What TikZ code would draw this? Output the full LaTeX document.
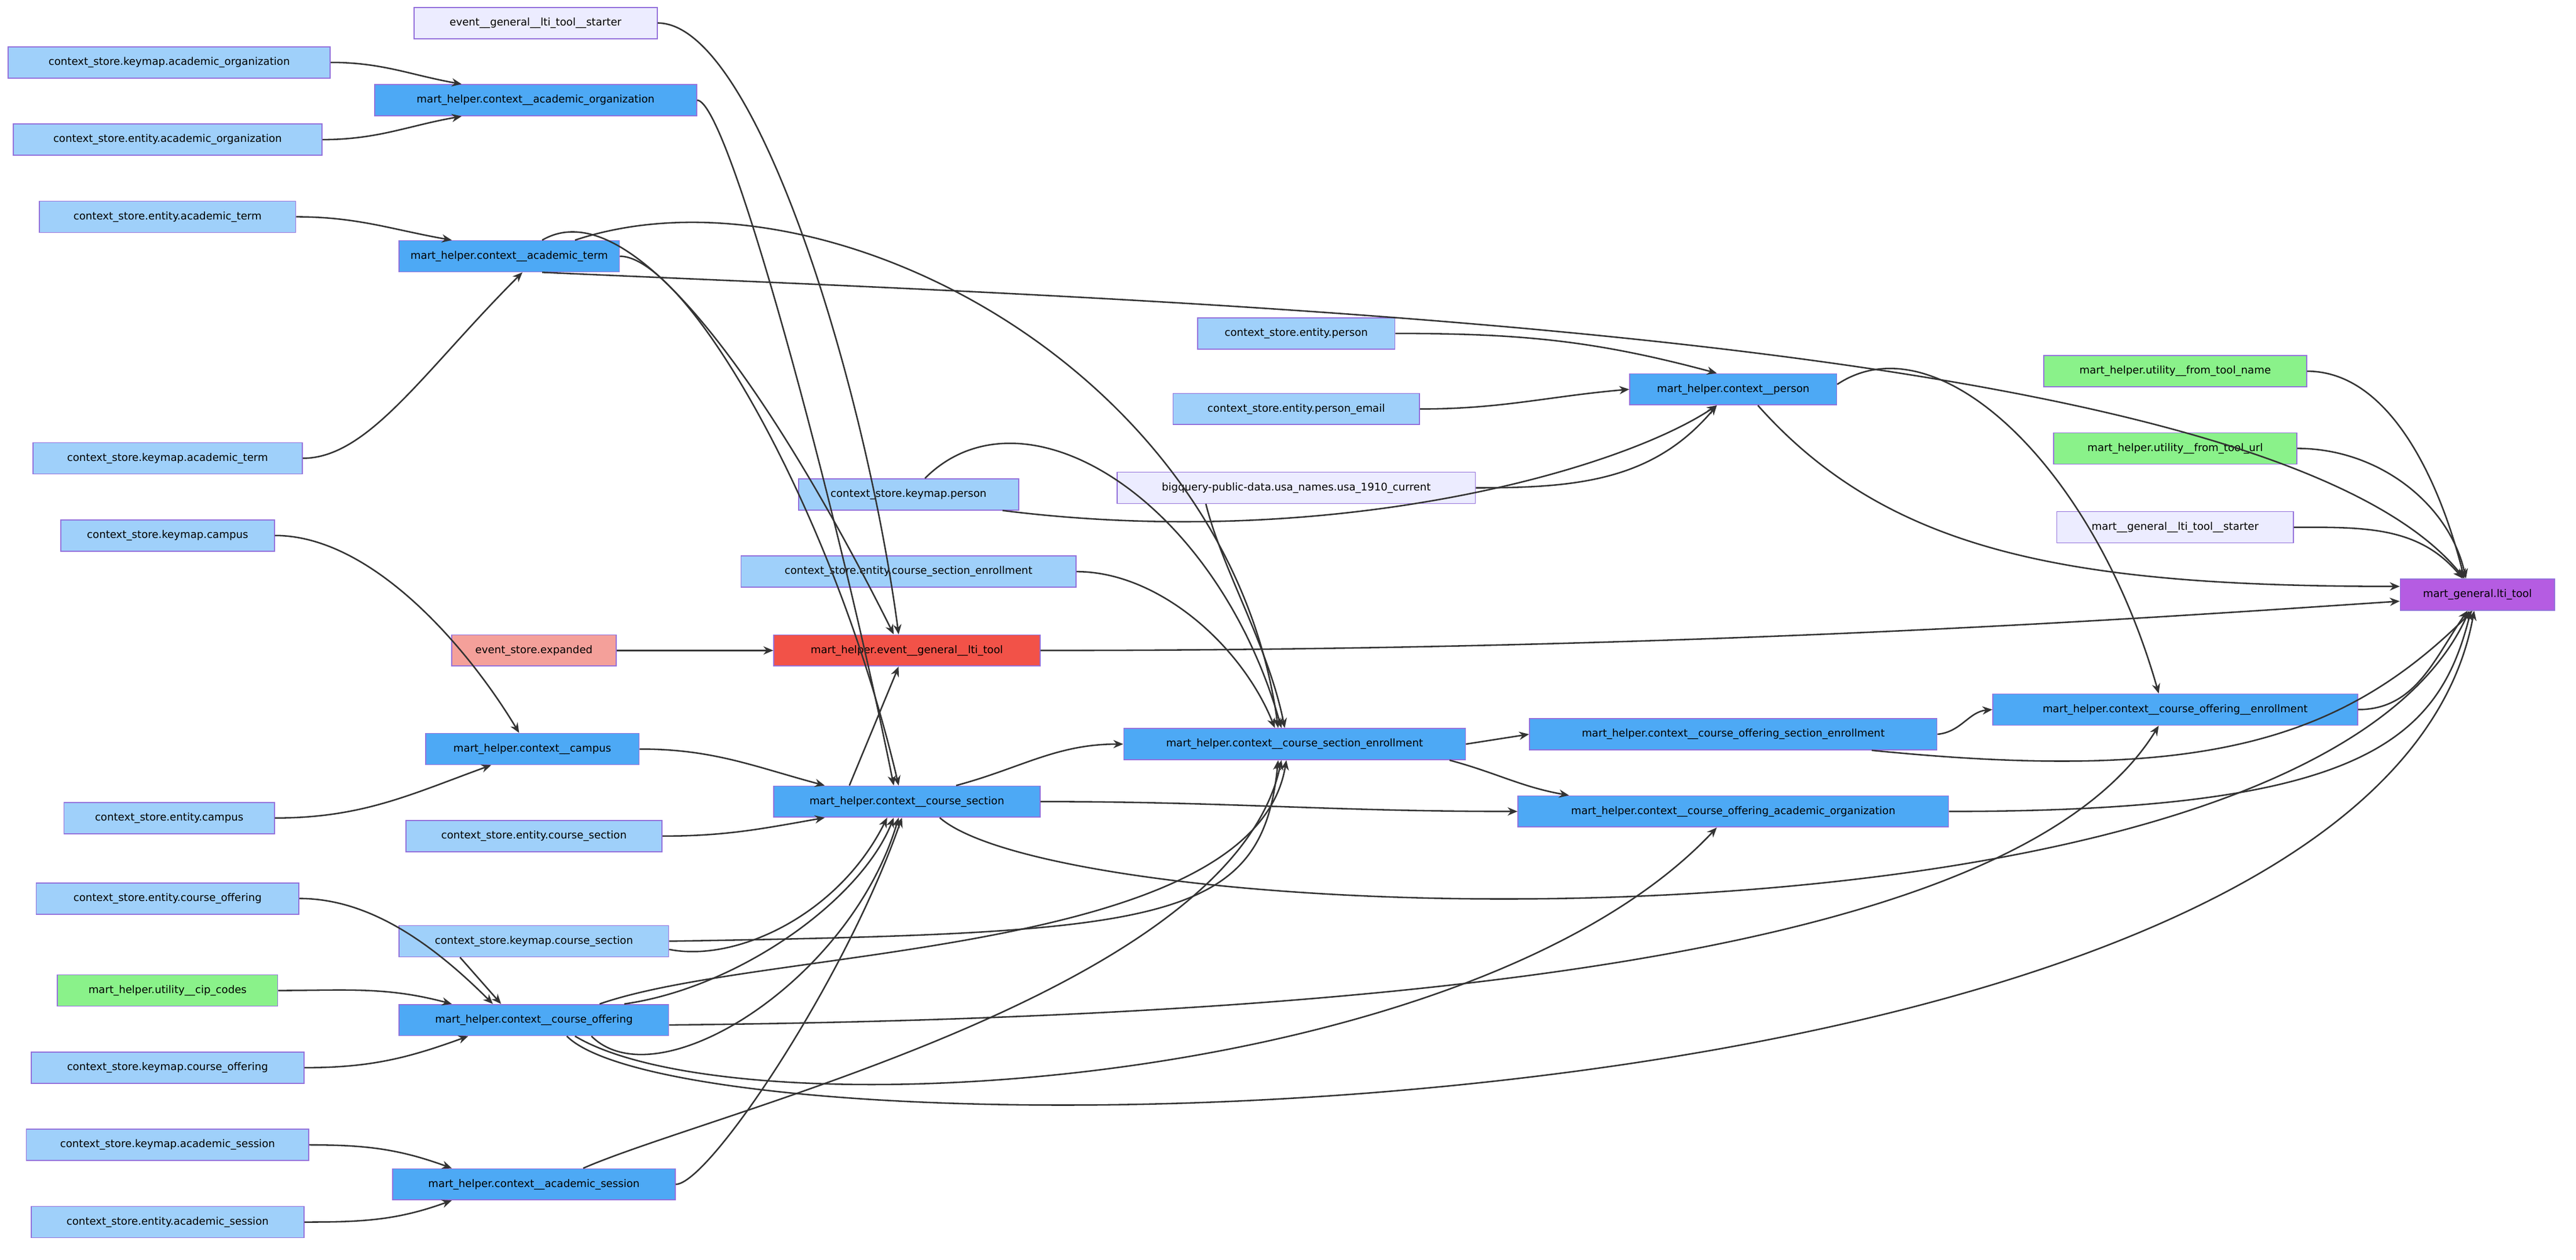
\documentclass[tikz,border=0pt]{standalone}
\usepackage{fontspec}
\setmainfont{DejaVu Sans}
\usetikzlibrary{arrows.meta}
\definecolor{lb}{HTML}{9FD0FA}
\definecolor{bb}{HTML}{4DA9F5}
\definecolor{bd}{HTML}{9370DB}
\definecolor{lav}{HTML}{ECECFF}
\definecolor{rd}{HTML}{F25248}
\definecolor{sal}{HTML}{F4A09A}
\definecolor{gr}{HTML}{8AF28A}
\definecolor{pu}{HTML}{B55CE2}
\definecolor{ln}{HTML}{333333}
\begin{document}
\begin{tikzpicture}[x=1pt,y=-1pt,
  n/.style={draw=bd,line width=0.6pt,minimum height=19pt,inner sep=1pt,font=\fontsize{6.4}{7}\selectfont,text=black},
  lb/.style={n,fill=lb}, bb/.style={n,fill=bb}, lav/.style={n,fill=lav},
  rd/.style={n,fill=rd}, sal/.style={n,fill=sal}, gr/.style={n,fill=gr}, pu/.style={n,fill=pu},
  e/.style={draw=ln,line width=0.9pt,-{Stealth[length=6pt,width=5pt]}}]
\useasboundingbox[fill=white] (0,0) rectangle (1568,767);
% nodes
\node[lav,minimum width=148pt] (ests) at (326,14) {event\_\_general\_\_lti\_tool\_\_starter};
\node[lb,minimum width=196pt] (kao) at (103,38) {context\_store.keymap.academic\_organization};
\node[bb,minimum width=196pt] (cao) at (326,61) {mart\_helper.context\_\_academic\_organization};
\node[lb,minimum width=188pt] (eao) at (102,85) {context\_store.entity.academic\_organization};
\node[lb,minimum width=156pt] (eat) at (102,132) {context\_store.entity.academic\_term};
\node[bb,minimum width=134pt] (cat) at (310,156) {mart\_helper.context\_\_academic\_term};
\node[lb,minimum width=164pt] (kat) at (102,279) {context\_store.keymap.academic\_term};
\node[lb,minimum width=130pt] (kc) at (102,326) {context\_store.keymap.campus};
\node[sal,minimum width=100pt] (ees) at (325,396) {event\_store.expanded};
\node[rd,minimum width=162pt] (elti) at (552,396) {mart\_helper.event\_\_general\_\_lti\_tool};
\node[bb,minimum width=130pt] (cc) at (324,456) {mart\_helper.context\_\_campus};
\node[lb,minimum width=128pt] (ec) at (103,498) {context\_store.entity.campus};
\node[lb,minimum width=156pt] (ecs) at (325,509) {context\_store.entity.course\_section};
\node[bb,minimum width=162pt] (cs) at (552,488) {mart\_helper.context\_\_course\_section};
\node[lb,minimum width=160pt] (eco) at (102,547) {context\_store.entity.course\_offering};
\node[lb,minimum width=164pt] (kcs) at (325,573) {context\_store.keymap.course\_section};
\node[gr,minimum width=134pt] (cip) at (102,603) {mart\_helper.utility\_\_cip\_codes};
\node[bb,minimum width=164pt] (co) at (325,621) {mart\_helper.context\_\_course\_offering};
\node[lb,minimum width=166pt] (kco) at (102,650) {context\_store.keymap.course\_offering};
\node[lb,minimum width=172pt] (kas) at (102,697) {context\_store.keymap.academic\_session};
\node[bb,minimum width=172pt] (as) at (325,721) {mart\_helper.context\_\_academic\_session};
\node[lb,minimum width=166pt] (eas) at (102,744) {context\_store.entity.academic\_session};
\node[lb,minimum width=134pt] (kp) at (553,301) {context\_store.keymap.person};
\node[lb,minimum width=204pt] (ese) at (553,348) {context\_store.entity.course\_section\_enrollment};
\node[lb,minimum width=120pt] (ep) at (789,203) {context\_store.entity.person};
\node[lb,minimum width=150pt] (epe) at (789,249) {context\_store.entity.person\_email};
\node[lav,minimum width=218pt] (bq) at (789,297) {bigquery-public-data.usa\_names.usa\_1910\_current};
\node[bb,minimum width=126pt] (pe) at (1055,237) {mart\_helper.context\_\_person};
\node[bb,minimum width=208pt] (cse) at (788,453) {mart\_helper.context\_\_course\_section\_enrollment};
\node[bb,minimum width=248pt] (cose) at (1055,447) {mart\_helper.context\_\_course\_offering\_section\_enrollment};
\node[bb,minimum width=262pt] (coao) at (1055,494) {mart\_helper.context\_\_course\_offering\_academic\_organization};
\node[bb,minimum width=222pt] (coe) at (1324,432) {mart\_helper.context\_\_course\_offering\_\_enrollment};
\node[gr,minimum width=160pt] (ftn) at (1324,226) {mart\_helper.utility\_\_from\_tool\_name};
\node[gr,minimum width=148pt] (ftu) at (1324,273) {mart\_helper.utility\_\_from\_tool\_url};
\node[lav,minimum width=144pt] (mst) at (1324,321) {mart\_\_general\_\_lti\_tool\_\_starter};
\node[pu,minimum width=94pt] (mgl) at (1508,362) {mart\_general.lti\_tool};
% edges
\begin{scope}[on background layer/.style={}]
\draw[e] (ests.east) .. controls +(60,0) and +(-20,-150) .. ([xshift=-5pt]elti.north);
\draw[e] (kao.east) to[out=0,in=170] ([xshift=-45pt]cao.north);
\draw[e] (eao.east) to[out=0,in=190] ([xshift=-45pt]cao.south);
\draw[e] (cao.east) .. controls +(20,0) and +(-30,-150) .. ([xshift=-8pt]cs.north);
\draw[e] (eat.east) to[out=0,in=170] ([xshift=-35pt]cat.north);
\draw[e] (kat.east) .. controls +(40,0) and +(-60,60) .. ([xshift=8pt]cat.south);
\draw[e] ([xshift=20pt]cat.north) .. controls +(60,-35) and +(-60,-120) .. ([xshift=-8pt]elti.north);
\draw[e] ([xshift=40pt]cat.north) .. controls +(150,-50) and +(-30,-220) .. ([xshift=-10pt]cse.north);
\draw[e] (cat.east) .. controls +(40,0) and +(-40,-170) .. ([xshift=-5pt]cs.north);
\draw[e] ([xshift=20pt]cat.south) .. controls +(400,18) and +(-120,-150) .. ([xshift=-8pt]mgl.north);
\draw[e] (kc.east) .. controls +(60,0) and +(-30,-50) .. ([xshift=-8pt]cc.north);
\draw[e] (ec.east) to[out=0,in=200] ([xshift=-25pt]cc.south);
\draw[e] (ees) -- (elti);
\draw[e] (elti.east) .. controls +(400,0) and +(-150,10) .. ([yshift=-4pt]mgl.west);
\draw[e] (cc.east) to[out=0,in=165] ([xshift=-50pt]cs.north);
\draw[e] (ecs.east) to[out=0,in=190] ([xshift=-50pt]cs.south);
\draw[e] ([xshift=-35pt]cs.north) -- ([xshift=-5pt]elti.south);
\draw[e] ([xshift=30pt]cs.north) to[out=15,in=180] (cse.west);
\draw[e] (cs.east) to[out=0,in=180] (coao.west);
\draw[e] ([xshift=20pt]cs.south) .. controls +(80,70) and +(-100,220) .. ([xshift=-5pt]mgl.south);
\draw[e] (eco.east) .. controls +(40,0) and +(-40,-40) .. ([xshift=-25pt]co.north);
\draw[e] ([xshift=-45pt]kcs.south) -- ([xshift=-20pt]co.north);
\draw[e] (kcs.east) .. controls +(300,-5) and +(-10,100) .. ([xshift=-10pt]cse.south);
\draw[e] ([yshift=-5pt]kcs.east) .. controls +(40,8) and +(-30,60) .. ([xshift=-12pt]cs.south);
\draw[e] (cip.east) to[out=0,in=165] ([xshift=-50pt]co.north);
\draw[e] (kco.east) to[out=0,in=200] ([xshift=-40pt]co.south);
\draw[e] ([xshift=40pt]co.north) .. controls +(100,-35) and +(-20,120) .. ([xshift=-5pt]cse.south);
\draw[e] ([xshift=55pt]co.north) .. controls +(70,-10) and +(-20,50) .. ([xshift=-8pt]cs.south);
\draw[e] ([xshift=35pt]co.south) .. controls +(40,40) and +(-30,100) .. ([xshift=-5pt]cs.south);
\draw[e] ([yshift=-3pt]co.east) .. controls +(500,-5) and +(-80,130) .. ([xshift=-10pt]coe.south);
\draw[e] ([xshift=25pt]co.south) .. controls +(100,60) and +(-150,160) .. ([xshift=-10pt]coao.south);
\draw[e] ([xshift=20pt]co.south) .. controls +(80,80) and +(-60,330) .. ([xshift=-2pt]mgl.south);
\draw[e] (kas.east) to[out=0,in=160] ([xshift=-50pt]as.north);
\draw[e] (eas.east) to[out=0,in=200] ([xshift=-50pt]as.south);
\draw[e] (as.east) .. controls +(20,0) and +(-35,100) .. ([xshift=-3pt]cs.south);
\draw[e] ([xshift=30pt]as.north) .. controls +(80,-35) and +(-30,140) .. ([xshift=-8pt]cse.south);
\draw[e] (ese.east) .. controls +(50,0) and +(-20,-50) .. ([xshift=-12pt]cse.north);
\draw[e] ([xshift=10pt]kp.north) .. controls +(60,-60) and +(-40,-140) .. ([xshift=-8pt]cse.north);
\draw[e] ([xshift=-10pt]kp.south east) .. controls +(200,25) and +(-60,40) .. ([xshift=-10pt]pe.south);
\draw[e] (ep.east) to[out=0,in=165] ([xshift=-10pt]pe.north);
\draw[e] (epe.east) to[out=0,in=185] (pe.west);
\draw[e] (bq.east) to[out=0,in=-130] ([xshift=-10pt]pe.south);
\draw[e] ([xshift=-55pt]bq.south) .. controls +(10,40) and +(-10,-50) .. ([xshift=-6pt]cse.north);
\draw[e] ([xshift=15pt]pe.south) .. controls +(80,90) and +(-200,0) .. ([yshift=5pt]mgl.west);
\draw[e] ([yshift=3pt]pe.east) .. controls +(60,-40) and +(-40,-140) .. ([xshift=-10pt]coe.north);
\draw[e] (cse.east) -- (cose.west);
\draw[e] ([xshift=-10pt]cse.south east) to[out=-15,in=170] ([xshift=-100pt]coao.north);
\draw[e] (cose.east) to[out=5,in=185] (coe.west);
\draw[e] ([xshift=-40pt]cose.south east) .. controls +(200,20) and +(-80,80) .. ([xshift=-3pt]mgl.south);
\draw[e] (coe.east) to[out=0,in=-125] ([xshift=-6pt]mgl.south);
\draw[e] (coao.east) .. controls +(250,0) and +(-20,80) .. ([xshift=-4pt]mgl.south);
\draw[e] (ftn.east) .. controls +(50,0) and +(-15,-60) .. ([xshift=-8pt]mgl.north);
\draw[e] (ftu.east) .. controls +(50,0) and +(-10,-45) .. ([xshift=-7pt]mgl.north);
\draw[e] (mst.east) to[out=0,in=130] ([xshift=-9pt]mgl.north);
\end{scope}
% redraw nodes on top
\foreach \nm in {ests,kao,cao,eao,eat,cat,kat,kc,ees,elti,cc,ec,ecs,cs,eco,kcs,cip,co,kco,kas,as,eas,kp,ese,ep,epe,bq,pe,cse,cose,coao,coe,ftn,ftu,mst,mgl}{}
\end{tikzpicture}
\end{document}
